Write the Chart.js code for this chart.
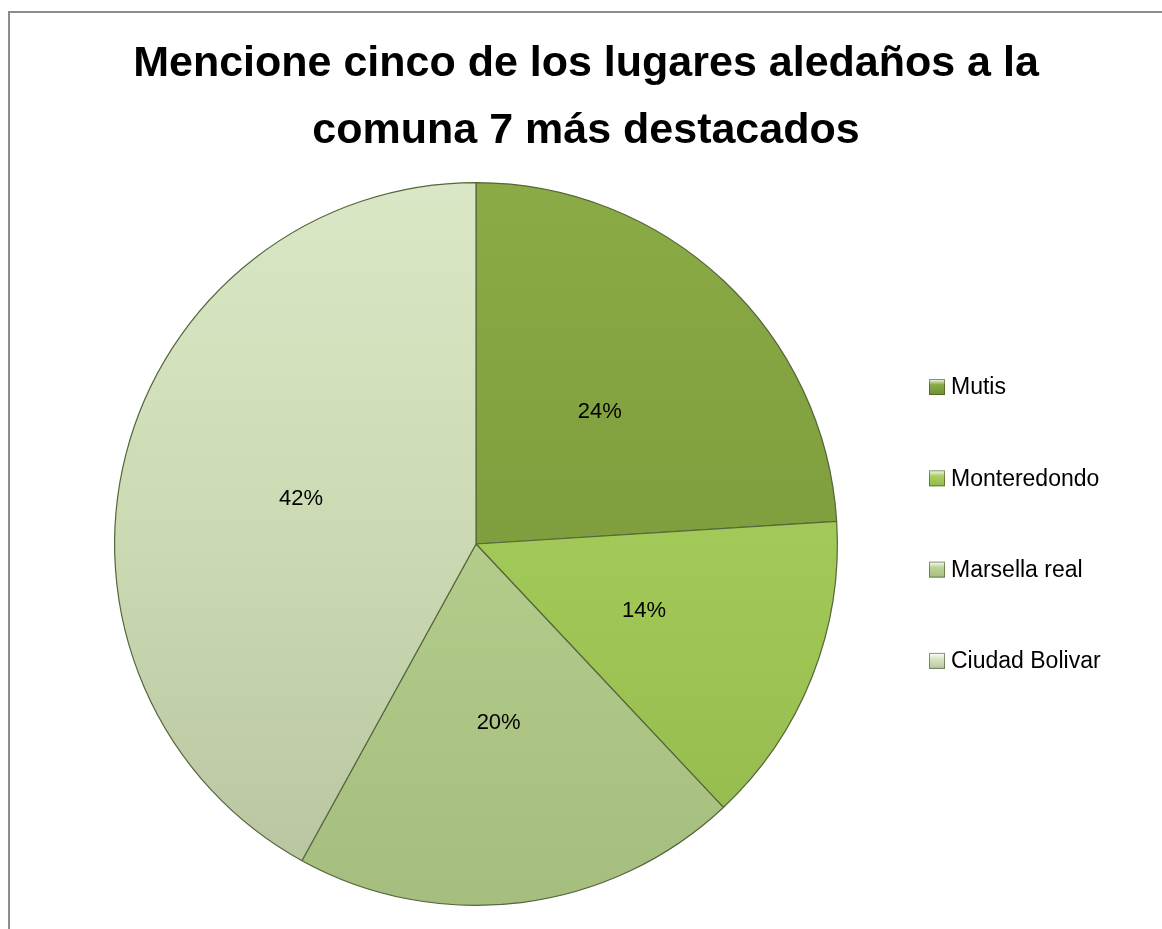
<!DOCTYPE html>
<html>
<head>
<meta charset="utf-8">
<script src="https://cdn.jsdelivr.net/npm/chart.js@4/dist/chart.umd.min.js"></script>
<style>
  html, body { margin: 0; padding: 0; background: #fff; overflow: hidden; }
  #wrap { position: relative; width: 1162px; height: 929px; }
  #frame {
    position: absolute; left: 8px; top: 11px; width: 1200px; height: 1000px;
    border-left: 2px solid #8c8c8c; border-top: 2px solid #8c8c8c;
    pointer-events: none;
  }
</style>
</head>
<body>
<div id="wrap">
  <canvas id="chart" width="1162" height="929"></canvas>
  <div id="frame"></div>
</div>
<script>
// Datos del gráfico
const titleLines = ["Mencione cinco de los lugares aledaños a la", "comuna 7 más destacados"];
const labels = ["Mutis", "Monteredondo", "Marsella real", "Ciudad Bolivar"];
const values = [24, 14, 20, 42];
const colors = ["#7f9e3e", "#a2c957", "#b3cc8a", "#cbdab2"];
const topColors = ["#8aab45", "#a9d05f", "#bcd596", "#dae7c6"];
const bottomColors = ["#718e36", "#93b84c", "#a5bd7e", "#b7c39f"];

const FONT = "'Liberation Sans', Arial, sans-serif";

// Relleno con degradado vertical (luz arriba, sombra abajo)
function sliceFill(context) {
  const chart = context.chart;
  const area = chart.chartArea;
  const i = context.dataIndex;
  if (!area) return colors[i];
  const g = chart.ctx.createLinearGradient(0, area.top, 0, area.bottom);
  g.addColorStop(0, topColors[i]);
  g.addColorStop(0.5, colors[i]);
  g.addColorStop(1, bottomColors[i]);
  return g;
}

// Título centrado sobre todo el lienzo
const titlePlugin = {
  id: "titulo",
  afterDraw(chart) {
    const ctx = chart.ctx;
    ctx.save();
    ctx.fillStyle = "#000";
    ctx.font = "bold 43px " + FONT;
    ctx.textAlign = "center";
    ctx.textBaseline = "middle";
    titleLines.forEach((line, i) => ctx.fillText(line, 586, 64 + i * 67));
    ctx.restore();
  },
};

// Porcentajes dentro de cada porción
const labelPlugin = {
  id: "porcentajes",
  afterDatasetsDraw(chart) {
    const ctx = chart.ctx;
    const total = values.reduce((a, b) => a + b, 0);
    ctx.save();
    ctx.fillStyle = "#000";
    ctx.font = "22px " + FONT;
    ctx.textAlign = "center";
    ctx.textBaseline = "middle";
    chart.getDatasetMeta(0).data.forEach((arc, i) => {
      const p = arc.tooltipPosition();
      ctx.fillText(Math.round((values[i] / total) * 100) + "%", p.x, p.y);
    });
    ctx.restore();
  },
};

// Leyenda a la derecha
const legendPlugin = {
  id: "leyenda",
  afterDraw(chart) {
    const ctx = chart.ctx;
    ctx.save();
    ctx.font = "23px " + FONT;
    ctx.textBaseline = "middle";
    chart.data.labels.forEach((label, i) => {
      const y = 387 + i * 91.3;
      const g = ctx.createLinearGradient(929, y - 8, 929, y + 8);
      g.addColorStop(0, "#ffffff");
      g.addColorStop(0.35, topColors[i]);
      g.addColorStop(1, bottomColors[i]);
      ctx.fillStyle = g;
      ctx.fillRect(929, y - 8, 16, 16);
      ctx.strokeStyle = "rgba(60,80,30,0.6)";
      ctx.lineWidth = 1;
      ctx.strokeRect(929.5, y - 7.5, 15, 15);
      ctx.fillStyle = "#000";
      ctx.fillText(label, 951, y + 1);
    });
    ctx.restore();
  },
};

new Chart(document.getElementById("chart"), {
  type: "pie",
  data: {
    labels: labels,
    datasets: [
      {
        data: values,
        backgroundColor: sliceFill,
        borderColor: "#55663a",
        borderWidth: 1.2,
      },
    ],
  },
  options: {
    responsive: false,
    animation: false,
    layout: { padding: { left: 114, right: 324, top: 182, bottom: 23 } },
    plugins: {
      legend: { display: false },
      title: { display: false },
      tooltip: { enabled: false },
    },
  },
  plugins: [titlePlugin, labelPlugin, legendPlugin],
});
</script>
</body>
</html>
